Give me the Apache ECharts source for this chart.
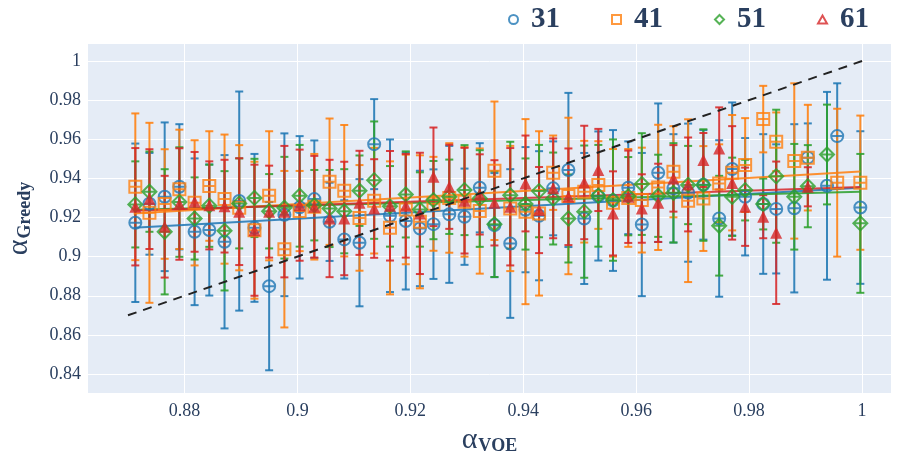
<!DOCTYPE html>
<html>
<head>
<meta charset="utf-8">
<script src="https://cdn.jsdelivr.net/npm/echarts@6/dist/echarts.min.js"></script>
<style>
    html, body { margin: 0; padding: 0; background: #fff; }
    #chart { width: 902px; height: 451px; }
</style>
</head>
<body>
<div id="chart"></div>
<script>
// alpha_VQE positions shared by the four runs
const alphaVQE = [
    0.8713, 0.8738, 0.8765, 0.8791, 0.8818, 0.8844, 0.8871, 0.8897, 0.8924, 0.8950,
    0.8977, 0.9004, 0.9030, 0.9057, 0.9083, 0.9110, 0.9136, 0.9164, 0.9192, 0.9217,
    0.9241, 0.9269, 0.9296, 0.9323, 0.9349, 0.9377, 0.9404, 0.9428, 0.9453, 0.9480,
    0.9508, 0.9533, 0.9559, 0.9586, 0.9610, 0.9639, 0.9666, 0.9692, 0.9719, 0.9747,
    0.9770, 0.9793, 0.9825, 0.9848, 0.9880, 0.9904, 0.9938, 0.9956, 0.9997
];

// alpha_Greedy means and error half-widths
const y31 = [
    0.9173, 0.9270, 0.9306, 0.9357, 0.9127, 0.9136, 0.9076, 0.9284, 0.9147, 0.8849,
    0.9214, 0.9252, 0.9294, 0.9178, 0.9088, 0.9071, 0.9575, 0.9209, 0.9182, 0.9144,
    0.9166, 0.9216, 0.9204, 0.9352, 0.9161, 0.9067, 0.9240, 0.9209, 0.9349, 0.9443,
    0.9195, 0.9310, 0.9287, 0.9352, 0.9164, 0.9429, 0.9349, 0.9327, 0.9367, 0.9195,
    0.9448, 0.9306, 0.9269, 0.9244, 0.9247, 0.9506, 0.9362, 0.9616, 0.9251
];
const e31 = [
    0.0405, 0.0260, 0.0380, 0.0320, 0.0375, 0.0335, 0.0443, 0.0560, 0.0378, 0.0430,
    0.0416, 0.0364, 0.0300, 0.0200, 0.0200, 0.0325, 0.0230, 0.0390, 0.0350, 0.0295,
    0.0280, 0.0350, 0.0246, 0.0228, 0.0266, 0.0380, 0.0320, 0.0330, 0.0240, 0.0394,
    0.0335, 0.0330, 0.0360, 0.0237, 0.0366, 0.0354, 0.0277, 0.0353, 0.0280, 0.0400,
    0.0340, 0.0300, 0.0357, 0.0330, 0.0430, 0.0175, 0.0480, 0.0270, 0.0390
];
const y41 = [
    0.9357, 0.9224, 0.9269, 0.9344, 0.9275, 0.9361, 0.9294, 0.9250, 0.9135, 0.9311,
    0.9038, 0.9233, 0.9255, 0.9383, 0.9337, 0.9198, 0.9286, 0.9147, 0.9241, 0.9178,
    0.9270, 0.9300, 0.9280, 0.9233, 0.9439, 0.9246, 0.9230, 0.9221, 0.9429, 0.9310,
    0.9332, 0.9366, 0.9275, 0.9300, 0.9289, 0.9354, 0.9434, 0.9286, 0.9297, 0.9374,
    0.9429, 0.9468, 0.9703, 0.9587, 0.9489, 0.9506, null, 0.9378, 0.9378
];
const e41 = [
    0.0375, 0.0460, 0.0280, 0.0305, 0.0320, 0.0280, 0.0330, 0.0320, 0.0350, 0.0330,
    0.0400, 0.0205, 0.0270, 0.0323, 0.0336, 0.0270, 0.0270, 0.0340, 0.0280, 0.0340,
    0.0240, 0.0280, 0.0280, 0.0320, 0.0354, 0.0320, 0.0473, 0.0420, 0.0190, 0.0400,
    0.0260, 0.0224, 0.0275, 0.0250, 0.0268, 0.0320, 0.0233, 0.0416, 0.0268, 0.0200,
    0.0295, 0.0240, 0.0170, 0.0150, 0.0397, 0.0270, null, 0.0378, 0.0343
];
const y51 = [
    0.9267, 0.9332, 0.9127, 0.9279, 0.9195, 0.9260, 0.9132, 0.9272, 0.9300, 0.9232,
    0.9250, 0.9311, 0.9263, 0.9246, 0.9232, 0.9337, 0.9391, 0.9257, 0.9318, 0.9241,
    0.9289, 0.9306, 0.9340, 0.9297, 0.9166, 0.9314, 0.9269, 0.9335, 0.9297, 0.9195,
    0.9230, 0.9311, 0.9289, 0.9309, 0.9371, 0.9311, 0.9326, 0.9366, 0.9366, 0.9158,
    0.9306, 0.9340, 0.9269, 0.9411, 0.9306, 0.9360, 0.9522, null, 0.9170
];
const e51 = [
    0.0220, 0.0205, 0.0320, 0.0280, 0.0210, 0.0210, 0.0305, 0.0230, 0.0200, 0.0190,
    0.0260, 0.0260, 0.0180, 0.0197, 0.0215, 0.0180, 0.0300, 0.0206, 0.0220, 0.0190,
    0.0200, 0.0190, 0.0230, 0.0247, 0.0270, 0.0273, 0.0233, 0.0236, 0.0235, 0.0225,
    0.0338, 0.0260, 0.0310, 0.0200, 0.0260, 0.0210, 0.0254, 0.0200, 0.0285, 0.0255,
    0.0200, 0.0155, 0.0130, 0.0340, 0.0270, 0.0210, 0.0255, null, 0.0355
];
const y61 = [
    0.9255, 0.9294, 0.9153, 0.9269, 0.9280, 0.9262, 0.9258, 0.9230, 0.9135, 0.9230,
    0.9230, 0.9263, 0.9255, 0.9195, 0.9195, 0.9275, 0.9246, 0.9260, 0.9260, 0.9221,
    0.9408, 0.9357, 0.9286, 0.9318, 0.9275, 0.9255, 0.9374, 0.9238, 0.9349, 0.9306,
    0.9379, 0.9443, 0.9221, 0.9306, 0.9246, 0.9275, 0.9400, 0.9369, 0.9494, 0.9553,
    0.9377, 0.9255, 0.9204, 0.9122, null, 0.9357, null, null, null
];
const e61 = [
    0.0300, 0.0255, 0.0260, 0.0285, 0.0255, 0.0225, 0.0237, 0.0273, 0.0335, 0.0235,
    0.0336, 0.0284, 0.0260, 0.0300, 0.0290, 0.0266, 0.0252, 0.0280, 0.0265, 0.0310,
    0.0252, 0.0215, 0.0270, 0.0205, 0.0218, 0.0300, 0.0245, 0.0220, 0.0255, 0.0247,
    0.0290, 0.0210, 0.0215, 0.0236, 0.0175, 0.0200, 0.0170, 0.0240, 0.0138, 0.0210,
    0.0290, 0.0200, 0.0110, 0.0364, null, 0.0100, null, null, null
];

// linear fits (end points) and the y = x guide
const fitX = [0.871, 0.9997];
const fit31 = [0.9147, 0.9352];
const fit41 = [0.9220, 0.9435];
const fit51 = [0.9240, 0.9332];
const fit61 = [0.9235, 0.9356];
const diagX = [0.87, 1.0];

const xTicks = [0.88, 0.9, 0.92, 0.94, 0.96, 0.98, 1];
const yTicks = [0.84, 0.86, 0.88, 0.9, 0.92, 0.94, 0.96, 0.98, 1];

const runs = [
    { name: '31', ys: y31, es: e31, fit: fit31, color: '#1f77b4',
        symbol: 'path://M0,5A5,5,0,1,1,10,5A5,5,0,1,1,0,5ZM0,5L10,5', filled: false, size: 12 },
    { name: '41', ys: y41, es: e41, fit: fit41, color: '#ff7f0e',
        symbol: 'path://M0,0L10,0L10,10L0,10ZM0,5L10,5', filled: false, size: 12 },
    { name: '51', ys: y51, es: e51, fit: fit51, color: '#2ca02c',
        symbol: 'path://M5,0L10,5L5,10L0,5ZM0,5L10,5', filled: false, size: 14 },
    { name: '61', ys: y61, es: e61, fit: fit61, color: '#d62728',
        symbol: 'triangle', filled: true, size: 12 }
];
const legendIcons = [
    'path://M0,5A5,5,0,1,1,10,5A5,5,0,1,1,0,5Z',
    'path://M0,0L10,0L10,10L0,10Z',
    'path://M5,0L10,5L5,10L0,5Z',
    'path://M5,0L10,9L0,9Z'
];

const serif = '"Liberation Serif", "DejaVu Serif", serif';
const ink = '#2a3f5f';

function errorBars(run) {
    const data = [];
    run.ys.forEach((y, i) => {
        if (y != null) data.push([alphaVQE[i], y - run.es[i], y + run.es[i]]);
    });
    return {
        type: 'custom',
        name: run.name + '-err',
        z: 2,
        silent: true,
        encode: { x: 0, y: [1, 2] },
        data: data,
        renderItem(params, api) {
            const x = api.value(0);
            const lo = api.coord([x, api.value(1)]);
            const hi = api.coord([x, api.value(2)]);
            const cap = 4;
            const style = { stroke: run.color, lineWidth: 2, opacity: 0.88 };
            return {
                type: 'group',
                children: [
                    { type: 'line', shape: { x1: lo[0], y1: lo[1], x2: hi[0], y2: hi[1] }, style },
                    { type: 'line', shape: { x1: lo[0] - cap, y1: lo[1], x2: lo[0] + cap, y2: lo[1] }, style },
                    { type: 'line', shape: { x1: hi[0] - cap, y1: hi[1], x2: hi[0] + cap, y2: hi[1] }, style }
                ]
            };
        }
    };
}

const series = [];
runs.forEach(run => {
    series.push(errorBars(run));
});
runs.forEach(run => {
    series.push({
        type: 'line',
        name: run.name + '-fit',
        z: 3,
        silent: true,
        symbol: 'none',
        lineStyle: { color: run.color, width: 2, opacity: 0.85 },
        data: fitX.map((x, i) => [x, run.fit[i]])
    });
});
runs.forEach(run => {
    series.push({
        type: 'scatter',
        name: run.name,
        z: 4,
        symbol: run.symbol,
        symbolSize: run.size,
        itemStyle: run.filled
            ? { color: run.color }
            : { color: 'rgba(0,0,0,0)', borderColor: run.color, borderWidth: 2 },
        emphasis: { disabled: true },
        data: alphaVQE.map((x, i) => run.ys[i] == null ? null : [x, run.ys[i]]).filter(d => d)
    });
});
series.push({
    type: 'line',
    name: 'diag',
    z: 5,
    silent: true,
    symbol: 'none',
    lineStyle: { color: '#222', width: 2, type: [9, 7] },
    data: diagX.map(x => [x, x])
});

const titleRich = {
    a: { fontFamily: serif, fontSize: 30, color: ink },
    s: { fontFamily: serif, fontSize: 18, fontWeight: 'bold', color: ink, verticalAlign: 'bottom', padding: [10, 0, 0, 1] }
};

const chart = echarts.init(document.getElementById('chart'));
chart.setOption({
    animation: false,
    backgroundColor: '#fff',
    textStyle: { fontFamily: serif },
    grid: {
        left: 88, right: 11, top: 44, bottom: 58,
        containLabel: false,
        outerBoundsMode: 'none',
        show: true, backgroundColor: '#e5ecf6', borderWidth: 0
    },
    legend: {
        left: 503,
        top: 0,
        itemWidth: 9,
        itemHeight: 9,
        itemGap: 51,
        selectedMode: false,
        textStyle: { fontFamily: serif, fontSize: 29, fontWeight: 'bold', color: ink, padding: [0, 0, 0, 8] },
        data: runs.map((run, i) => ({
            name: run.name,
            icon: legendIcons[i],
            itemStyle: { color: 'rgba(0,0,0,0)', borderColor: run.color, borderWidth: 2 }
        }))
    },
    xAxis: {
        type: 'value',
        min: 0.86292,
        max: 1.00513,
        name: '{a|α}{s|VQE}',
        nameLocation: 'middle',
        nameGap: 26,
        nameTextStyle: { rich: titleRich },
        axisLine: { show: false },
        axisTick: { show: false, customValues: xTicks },
        axisLabel: {
            customValues: xTicks,
            fontFamily: serif, fontSize: 18, color: ink, margin: 9,
            formatter: v => String(+v.toFixed(2))
        },
        splitLine: { show: true, lineStyle: { color: '#fff', width: 1 } }
    },
    yAxis: {
        type: 'value',
        min: 0.83029,
        max: 1.00869,
        name: '{a|α}{s|Greedy}',
        nameLocation: 'middle',
        nameRotate: 90,
        nameGap: 54,
        nameTextStyle: { rich: titleRich },
        axisLine: { show: false },
        axisTick: { show: false, customValues: yTicks },
        axisLabel: {
            customValues: yTicks,
            fontFamily: serif, fontSize: 18, color: ink, margin: 7,
            formatter: v => String(+v.toFixed(2))
        },
        splitLine: { show: true, lineStyle: { color: '#fff', width: 1 } },
        splitArea: { show: false }
    },
    series: series
});
</script>
</body>
</html>
